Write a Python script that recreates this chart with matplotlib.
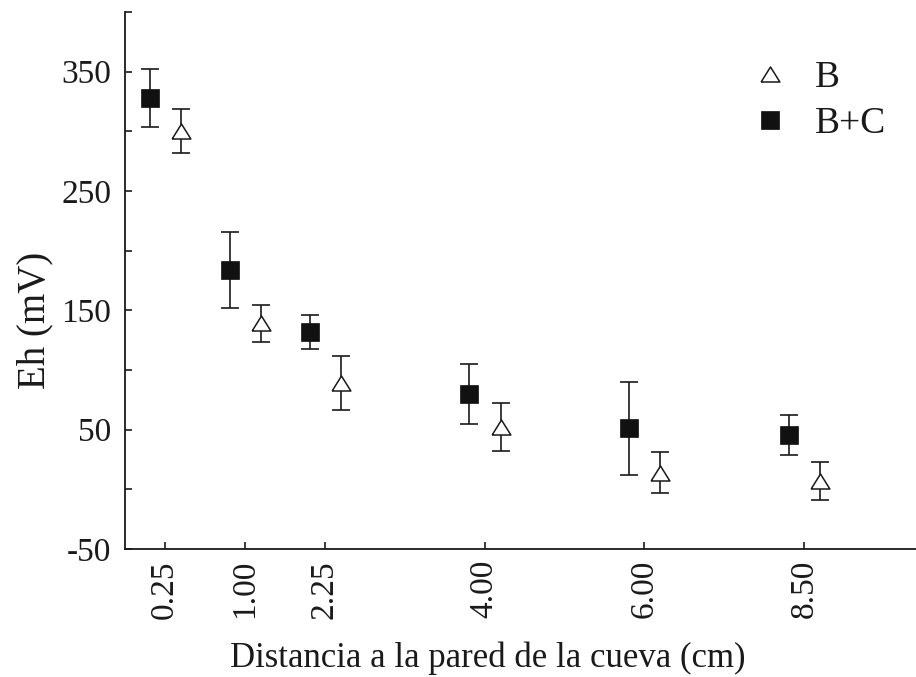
import matplotlib
matplotlib.use("Agg")
import matplotlib.pyplot as plt
import numpy as np

# Data
categories = ["0.25", "1.00", "2.25", "4.00", "6.00", "8.50"]
positions = [1, 2, 3, 5, 7, 9]
bc_mean = [328, 184, 132, 80, 51, 45.5]
bc_err = [24.5, 32, 14, 25, 39, 17]
b_mean = [300, 139, 89, 52, 14, 7]
b_err = [18.5, 15.5, 22.5, 20, 17, 16]
yticks = [-50, 0, 50, 100, 150, 200, 250, 300, 350, 400]
ytick_labels = ["-50", "", "50", "", "150", "", "250", "", "350", ""]

plt.rcParams['font.family'] = ['Liberation Serif', 'DejaVu Serif']

fig = plt.figure(figsize=(9.16, 6.77), dpi=100)
ax = fig.add_axes([125/916, 128/677, 791/916, 537/677])

col = '#1a1a1a'
xs = np.array(positions, dtype=float)
ax.errorbar(xs - 0.19, bc_mean, yerr=bc_err, fmt='none', ecolor=col,
            elinewidth=1.2, capsize=6.5, capthick=1.2, zorder=2)
ax.errorbar(xs + 0.2, b_mean, yerr=b_err, fmt='none', ecolor=col,
            elinewidth=1.2, capsize=6.5, capthick=1.2, zorder=2)

tri = [(-1, -0.8), (1, -0.8), (0, 0.8), (-1, -0.8)]
ax.plot(xs + 0.2, b_mean, linestyle='none', marker=tri, markersize=13.5,
        markerfacecolor='white', markeredgecolor=col, markeredgewidth=1.1,
        label='B', zorder=3)
ax.plot(xs - 0.19, bc_mean, linestyle='none', marker='s', markersize=13,
        markerfacecolor='#111111', markeredgecolor='#111111', markeredgewidth=0.5,
        label='B+C', zorder=3)

ax.set_xlim(0.5, 10.4)
ax.set_ylim(-50, 400)
ax.set_xticks(positions)
ax.set_xticklabels(categories, rotation=90, fontsize=24)
ax.set_yticks(yticks)
ax.set_yticklabels(ytick_labels, fontsize=24)
ax.tick_params(axis='both', direction='in', length=5, width=1.2, colors=col)
ax.tick_params(axis='y', pad=10)
ax.tick_params(axis='x', pad=8)

for s in ['top', 'right']:
    ax.spines[s].set_visible(False)
for s in ['left', 'bottom']:
    ax.spines[s].set_linewidth(1.3)
    ax.spines[s].set_color(col)

ax.set_xlabel("Distancia a la pared de la cueva (cm)", fontsize=25, color=col)
ax.xaxis.set_label_coords(0.458, -0.173)
ax.set_ylabel("Eh (mV)", fontsize=28, color=col)
ax.yaxis.set_label_coords(-0.09, 0.426)

leg = ax.legend(loc='upper right', bbox_to_anchor=(0.981, 0.937), frameon=False,
                fontsize=27, handlelength=1.0, handletextpad=0.68,
                labelspacing=0.3, borderaxespad=0)
for t in leg.get_texts():
    t.set_color(col)

fig.savefig("out.png", dpi=100)
